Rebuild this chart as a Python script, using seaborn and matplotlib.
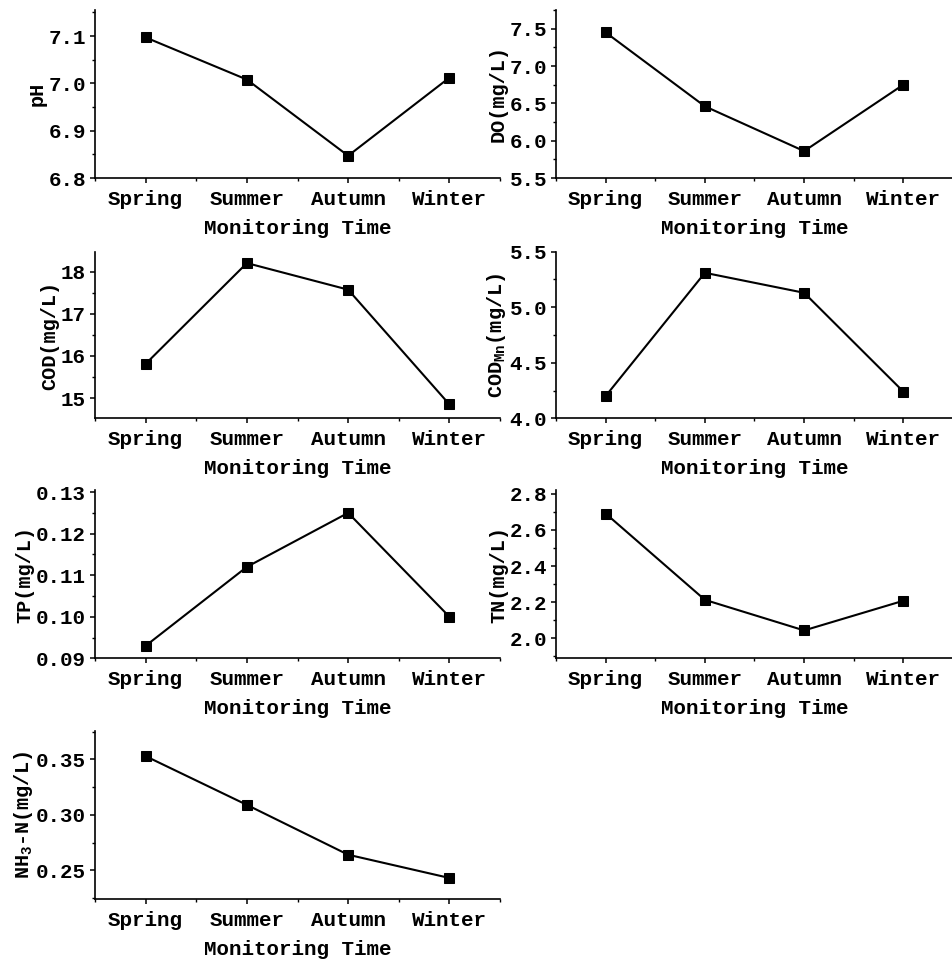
import matplotlib
matplotlib.use("Agg")
import matplotlib.pyplot as plt
from matplotlib.ticker import MultipleLocator, FormatStrFormatter
import seaborn as sns
import pandas as pd

# Seasonal water quality monitoring results
seasons = ["Spring", "Summer", "Autumn", "Winter"]
ph = [7.097, 7.008, 6.847, 7.012]
do = [7.45, 6.46, 5.86, 6.75]
cod = [15.81, 18.20, 17.57, 14.85]
cod_mn = [4.20, 5.31, 5.13, 4.24]
tp = [0.093, 0.112, 0.125, 0.100]
tn = [2.69, 2.213, 2.044, 2.208]
nh3n = [0.353, 0.309, 0.264, 0.243]

sns.set_style("ticks")
plt.rcParams["font.family"] = ["Liberation Mono", "DejaVu Sans"]
plt.rcParams["font.weight"] = "bold"
plt.rcParams["axes.labelweight"] = "bold"
plt.rcParams["axes.labelcolor"] = "black"
plt.rcParams["text.color"] = "black"
plt.rcParams["mathtext.fontset"] = "custom"
plt.rcParams["mathtext.rm"] = "Liberation Mono:bold"
plt.rcParams["mathtext.it"] = "Liberation Mono:bold"
plt.rcParams["axes.linewidth"] = 1.2
plt.rcParams["xtick.major.width"] = 1.1
plt.rcParams["ytick.major.width"] = 1.1
plt.rcParams["xtick.minor.width"] = 1.0
plt.rcParams["ytick.minor.width"] = 1.0

fig = plt.figure(figsize=(9.53, 9.61), dpi=100)

W, H = 953.0, 961.0
col_x = [(95, 500), (556, 953)]
row_y = [(10, 178), (251.7, 418.3), (490, 658.3), (730.7, 899)]

# (values, y label, ylim, major step, minor step, tick format, grid slot)
panels = [
    (ph, "pH", (6.8, 7.155), 0.1, 0.05, "%.1f", (0, 0)),
    (do, "DO(mg/L)", (5.5, 7.75), 0.5, 0.25, "%.1f", (0, 1)),
    (cod, "COD(mg/L)", (14.52, 18.47), 1, 0.5, "%d", (1, 0)),
    (cod_mn, "COD$_{\\mathrm{Mn}}$(mg/L)", (4.0, 5.5), 0.5, 0.25, "%.1f", (1, 1)),
    (tp, "TP(mg/L)", (0.09, 0.1305), 0.01, 0.005, "%.2f", (2, 0)),
    (tn, "TN(mg/L)", (1.89, 2.82), 0.2, 0.1, "%.1f", (2, 1)),
    (nh3n, "NH$_3$-N(mg/L)", (0.224, 0.376), 0.05, 0.025, "%.2f", (3, 0)),
]

for vals, ylabel, ylim, major, minor, fmt, (r, c) in panels:
    x0, x1 = col_x[c]
    yt, yb = row_y[r]
    ax = fig.add_axes([x0 / W, 1 - yb / H, (x1 - x0) / W, (yb - yt) / H])
    df = pd.DataFrame({"Season": seasons, "Value": vals})
    sns.lineplot(data=df, x="Season", y="Value", ax=ax, sort=False,
                 color="black", linewidth=1.5, marker="s", markersize=7.5,
                 markeredgecolor="black", markerfacecolor="black")
    ax.set_xlim(-0.5, 3.5)
    ax.set_ylim(*ylim)
    ax.yaxis.set_major_locator(MultipleLocator(major))
    ax.yaxis.set_minor_locator(MultipleLocator(minor))
    ax.yaxis.set_major_formatter(FormatStrFormatter(fmt))
    ax.xaxis.set_minor_locator(MultipleLocator(0.5))
    ax.tick_params(axis="both", which="major", length=3.5, labelsize=15,
                   colors="black")
    ax.tick_params(axis="both", which="minor", length=2, colors="black")
    ax.tick_params(axis="y", which="major", pad=3)
    ax.tick_params(axis="x", which="major", pad=5)
    ax.set_xlabel("Monitoring Time", fontsize=15, labelpad=7, color="black")
    ax.set_ylabel(ylabel, fontsize=14.5, labelpad=1, color="black")
    sns.despine(ax=ax)
    for s in ax.spines.values():
        s.set_color("black")

fig.savefig("out.png", dpi=100, facecolor="white")
